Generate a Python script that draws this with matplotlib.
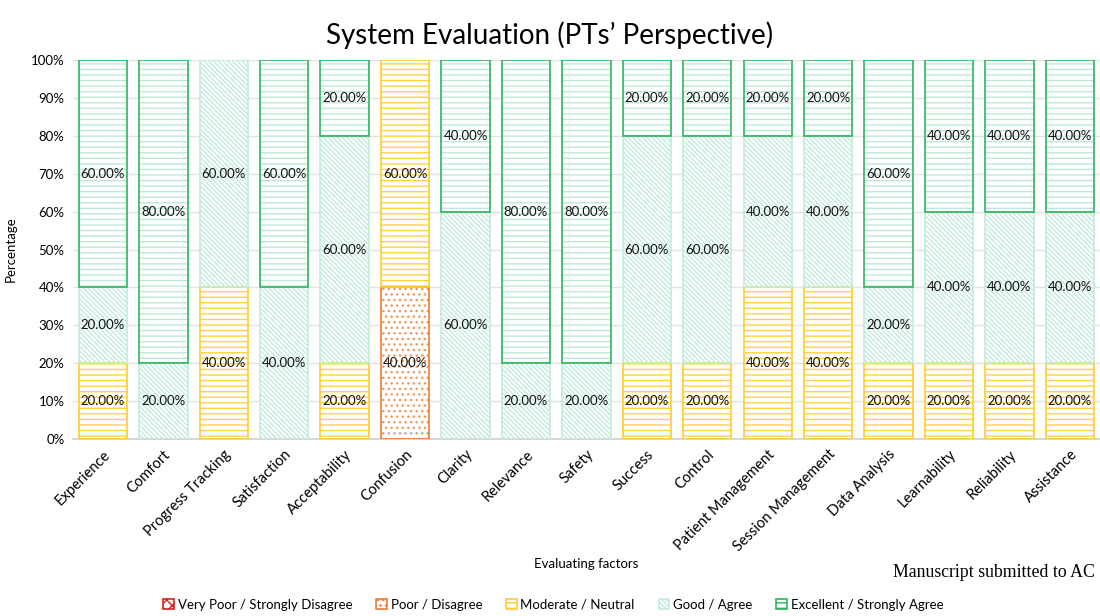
import numpy as np
import matplotlib
matplotlib.use("Agg")
import matplotlib.pyplot as plt
import matplotlib.patches as mpatches

plt.rcParams.update({
    "font.family": ["Lato", "DejaVu Sans"],
    "hatch.linewidth": 1.0,
})

categories = ["Experience", "Comfort", "Progress Tracking", "Satisfaction",
              "Acceptability", "Confusion", "Clarity", "Relevance", "Safety",
              "Success", "Control", "Patient Management", "Session Management",
              "Data Analysis", "Learnability", "Reliability", "Assistance"]

very_poor = [0, 0, 0, 0, 0, 0, 0, 0, 0, 0, 0, 0, 0, 0, 0, 0, 0]
poor      = [0, 0, 0, 0, 0, 40, 0, 0, 0, 0, 0, 0, 0, 0, 0, 0, 0]
moderate  = [20, 0, 40, 0, 20, 60, 0, 0, 0, 20, 20, 40, 40, 20, 20, 20, 20]
good      = [20, 20, 60, 40, 60, 0, 60, 20, 20, 60, 60, 40, 40, 20, 40, 40, 40]
excellent = [60, 80, 0, 60, 20, 0, 40, 80, 80, 20, 20, 20, 20, 60, 40, 40, 40]

series_names = ["Very Poor / Strongly Disagree", "Poor / Disagree",
                "Moderate / Neutral", "Good / Agree", "Excellent / Strongly Agree"]
series_vals = [very_poor, poor, moderate, good, excellent]

# (hatch colour, outline colour, hatch pattern)
styles = [
    ("#e84a4a", "#d92020", "xxx"),
    ("#f39a5a", "#ed7d31", "..."),
    ("#ffd24a", "#ffcc33", "---"),
    ("#c4ecda", "#c4ecda", "\\" * 7),
    ("#bfe9d4", "#2bb65e", "---"),
]

fig = plt.figure(figsize=(11, 6.16), dpi=100)
ax = fig.add_axes([0.0661, 0.2873, 0.934, 0.6153])

x = np.arange(len(categories))
bottom = np.zeros(len(categories))
width = 0.8

for name, vals, (hc, ec, hatch) in zip(series_names, series_vals, styles):
    vals = np.array(vals, dtype=float)
    m = vals > 0
    if m.any():
        ax.bar(x[m], vals[m], width, bottom=bottom[m], color="white",
               edgecolor=hc, hatch=hatch, linewidth=0, zorder=2)
        cont = ax.bar(x[m], vals[m], width, bottom=bottom[m], fill=False,
                      edgecolor=ec, linewidth=1.2, zorder=3)
        ax.bar_label(cont, labels=[f"{v:.2f}%" for v in vals[m]],
                     label_type="center", fontsize=9.5, color="#111111", zorder=4)
    bottom += vals

ax.set_xlim(-0.5, len(categories) - 0.5)
ax.set_ylim(0, 100)
ax.set_yticks(np.arange(0, 101, 10))
ax.set_yticklabels([f"{t}%" for t in range(0, 101, 10)], fontsize=9.5)
ax.set_xticks(x)
ax.set_xticklabels(categories, rotation=45, ha="right", rotation_mode="anchor",
                   fontsize=10.5)
ax.tick_params(axis="both", length=0, pad=6)
ax.grid(axis="y", color="#e3e3e3", linewidth=1, zorder=0)
ax.set_axisbelow(True)
for s in ["top", "right", "left"]:
    ax.spines[s].set_visible(False)
ax.spines["bottom"].set_color("#cfcfcf")
ax.spines["bottom"].set_linewidth(1.2)

ax.set_ylabel("Percentage", fontsize=9.5, labelpad=10)
fig.text(0.533, 0.084, "Evaluating factors", ha="center", va="center", fontsize=9.5)
fig.suptitle("System Evaluation (PTs\u2019 Perspective)", y=0.965, fontsize=20)

fig.text(0.995, 0.070, "Manuscript submitted to AC", ha="right", va="center",
         fontsize=12.8, family=["Liberation Serif", "DejaVu Serif"])

handles = []
for name, (hc, ec, hatch) in zip(series_names, styles):
    handles.append(mpatches.Patch(facecolor="white", edgecolor=ec, hatch=hatch,
                                  linewidth=1.2, label=name))
fig.legend(handles=handles, loc="center", bbox_to_anchor=(0.503, 0.018), ncol=5,
           frameon=False, fontsize=9.5, handlelength=0.8, handleheight=0.8,
           handletextpad=0.3, columnspacing=1.8)

fig.savefig("out.png", dpi=100)
